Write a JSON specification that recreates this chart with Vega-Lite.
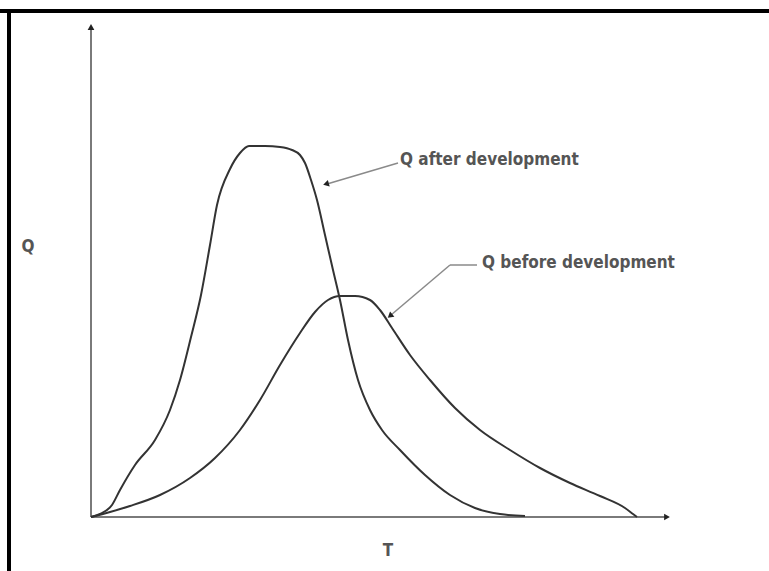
{
  "$schema": "https://vega.github.io/schema/vega-lite/v6.json",
  "width": 769,
  "height": 571,
  "padding": 0,
  "autosize": {"type": "none"},
  "background": "white",
  "config": {"view": {"stroke": null}},
  "datasets": {
    "curves": [
      {"series": "after", "i": 0, "T": 0, "Q": 0},
      {"series": "after", "i": 1, "T": 0.9, "Q": 0.3},
      {"series": "after", "i": 2, "T": 2.1, "Q": 1.2},
      {"series": "after", "i": 3, "T": 2.9, "Q": 2.7},
      {"series": "after", "i": 4, "T": 4.4, "Q": 5.2},
      {"series": "after", "i": 5, "T": 6.4, "Q": 7.7},
      {"series": "after", "i": 6, "T": 7.9, "Q": 10.7},
      {"series": "after", "i": 7, "T": 8.9, "Q": 13.7},
      {"series": "after", "i": 8, "T": 10.0, "Q": 18.0},
      {"series": "after", "i": 9, "T": 11.0, "Q": 22.2},
      {"series": "after", "i": 10, "T": 11.9, "Q": 27.2},
      {"series": "after", "i": 11, "T": 12.6, "Q": 31.2},
      {"series": "after", "i": 12, "T": 13.9, "Q": 34.8},
      {"series": "after", "i": 13, "T": 14.9, "Q": 36.4},
      {"series": "after", "i": 14, "T": 15.8, "Q": 37.1},
      {"series": "after", "i": 15, "T": 17.4, "Q": 37.1},
      {"series": "after", "i": 16, "T": 18.9, "Q": 37.0},
      {"series": "after", "i": 17, "T": 20.1, "Q": 36.7},
      {"series": "after", "i": 18, "T": 20.9, "Q": 36.2},
      {"series": "after", "i": 19, "T": 21.4, "Q": 35.4},
      {"series": "after", "i": 20, "T": 22.0, "Q": 33.7},
      {"series": "after", "i": 21, "T": 22.6, "Q": 31.7},
      {"series": "after", "i": 22, "T": 23.4, "Q": 28.2},
      {"series": "after", "i": 23, "T": 24.2, "Q": 24.7},
      {"series": "after", "i": 24, "T": 24.9, "Q": 21.7},
      {"series": "after", "i": 25, "T": 25.7, "Q": 17.7},
      {"series": "after", "i": 26, "T": 26.7, "Q": 13.7},
      {"series": "after", "i": 27, "T": 27.9, "Q": 10.7},
      {"series": "after", "i": 28, "T": 29.1, "Q": 8.7},
      {"series": "after", "i": 29, "T": 30.9, "Q": 6.7},
      {"series": "after", "i": 30, "T": 33.4, "Q": 4.2},
      {"series": "after", "i": 31, "T": 35.9, "Q": 2.2},
      {"series": "after", "i": 32, "T": 38.4, "Q": 0.9},
      {"series": "after", "i": 33, "T": 40.9, "Q": 0.3},
      {"series": "after", "i": 34, "T": 43.4, "Q": 0.1},
      {"series": "before", "i": 0, "T": 0, "Q": 0},
      {"series": "before", "i": 1, "T": 1.9, "Q": 0.5},
      {"series": "before", "i": 2, "T": 3.9, "Q": 1.1},
      {"series": "before", "i": 3, "T": 6.9, "Q": 2.2},
      {"series": "before", "i": 4, "T": 9.9, "Q": 3.9},
      {"series": "before", "i": 5, "T": 12.4, "Q": 5.9},
      {"series": "before", "i": 6, "T": 14.9, "Q": 8.7},
      {"series": "before", "i": 7, "T": 16.9, "Q": 11.7},
      {"series": "before", "i": 8, "T": 18.9, "Q": 15.2},
      {"series": "before", "i": 9, "T": 20.9, "Q": 18.4},
      {"series": "before", "i": 10, "T": 22.4, "Q": 20.5},
      {"series": "before", "i": 11, "T": 23.7, "Q": 21.7},
      {"series": "before", "i": 12, "T": 24.9, "Q": 22.1},
      {"series": "before", "i": 13, "T": 26.4, "Q": 22.1},
      {"series": "before", "i": 14, "T": 27.9, "Q": 21.7},
      {"series": "before", "i": 15, "T": 28.9, "Q": 20.7},
      {"series": "before", "i": 16, "T": 30.1, "Q": 18.9},
      {"series": "before", "i": 17, "T": 31.9, "Q": 16.2},
      {"series": "before", "i": 18, "T": 33.9, "Q": 13.7},
      {"series": "before", "i": 19, "T": 36.4, "Q": 10.9},
      {"series": "before", "i": 20, "T": 38.9, "Q": 8.7},
      {"series": "before", "i": 21, "T": 41.9, "Q": 6.7},
      {"series": "before", "i": 22, "T": 44.9, "Q": 4.9},
      {"series": "before", "i": 23, "T": 47.9, "Q": 3.4},
      {"series": "before", "i": 24, "T": 50.9, "Q": 2.1},
      {"series": "before", "i": 25, "T": 53.4, "Q": 0.9},
      {"series": "before", "i": 26, "T": 54.2, "Q": 0.3},
      {"series": "before", "i": 27, "T": 54.6, "Q": 0}
    ]
  },
  "layer": [
    {
      "data": {"values": [
        {"T": -9.1, "Q": 50.6, "T2": 67.8, "Q2": 50.6},
        {"T": -8.2, "Q": 50.8, "T2": -8.2, "Q2": -5.4}
      ]},
      "mark": {"type": "rule", "color": "black", "strokeWidth": 4},
      "encoding": {
        "x": {"field": "T", "type": "quantitative", "scale": {"domain": [-9.1, 67.8], "nice": false, "zero": false}, "axis": null},
        "y": {"field": "Q", "type": "quantitative", "scale": {"domain": [-5.4, 51.7], "nice": false, "zero": false}, "axis": null},
        "x2": {"field": "T2"},
        "y2": {"field": "Q2"}
      }
    },
    {
      "data": {"values": [
        {"T": 0, "Q": 0, "T2": 0, "Q2": 48.8},
        {"T": 0, "Q": 0, "T2": 57.4, "Q2": 0}
      ]},
      "mark": {"type": "rule", "color": "#7a7a7a", "strokeWidth": 2},
      "encoding": {
        "x": {"field": "T", "type": "quantitative"},
        "y": {"field": "Q", "type": "quantitative"},
        "x2": {"field": "T2"},
        "y2": {"field": "Q2"}
      }
    },
    {
      "data": {"values": [{"T": 0, "Q": 49.0}]},
      "mark": {"type": "point", "shape": "triangle-up", "filled": true, "color": "#222", "size": 45, "opacity": 1},
      "encoding": {
        "x": {"field": "T", "type": "quantitative"},
        "y": {"field": "Q", "type": "quantitative"}
      }
    },
    {
      "data": {"values": [{"T": 57.6, "Q": 0}]},
      "mark": {"type": "point", "shape": "triangle-right", "filled": true, "color": "#222", "size": 45, "opacity": 1},
      "encoding": {
        "x": {"field": "T", "type": "quantitative"},
        "y": {"field": "Q", "type": "quantitative"}
      }
    },
    {
      "data": {"name": "curves"},
      "mark": {"type": "line", "color": "#333", "strokeWidth": 2, "interpolate": "monotone"},
      "encoding": {
        "x": {"field": "T", "type": "quantitative"},
        "y": {"field": "Q", "type": "quantitative"},
        "detail": {"field": "series"},
        "order": {"field": "i", "type": "quantitative"}
      }
    },
    {
      "data": {"values": [
        {"T": 30.7, "Q": 35.4, "T2": 23.6, "Q2": 33.3},
        {"T": 38.6, "Q": 25.2, "T2": 35.9, "Q2": 25.2},
        {"T": 35.9, "Q": 25.2, "T2": 30.0, "Q2": 20.2}
      ]},
      "mark": {"type": "rule", "color": "#8a8a8a", "strokeWidth": 1.5},
      "encoding": {
        "x": {"field": "T", "type": "quantitative"},
        "y": {"field": "Q", "type": "quantitative"},
        "x2": {"field": "T2"},
        "y2": {"field": "Q2"}
      }
    },
    {
      "data": {"values": [{"T": 23.5, "Q": 33.3}]},
      "mark": {"type": "point", "shape": "triangle-right", "filled": true, "color": "#222", "size": 45, "opacity": 1, "angle": 164},
      "encoding": {
        "x": {"field": "T", "type": "quantitative"},
        "y": {"field": "Q", "type": "quantitative"}
      }
    },
    {
      "data": {"values": [{"T": 29.9, "Q": 20.1}]},
      "mark": {"type": "point", "shape": "triangle-right", "filled": true, "color": "#222", "size": 45, "opacity": 1, "angle": 140},
      "encoding": {
        "x": {"field": "T", "type": "quantitative"},
        "y": {"field": "Q", "type": "quantitative"}
      }
    },
    {
      "data": {"values": [
        {"T": 30.9, "Q": 35.7, "label": "Q after development"},
        {"T": 39.1, "Q": 25.4, "label": "Q before development"}
      ]},
      "mark": {"type": "text", "align": "left", "baseline": "middle", "font": "DejaVu Sans Condensed", "fontSize": 17, "fontWeight": "bold", "color": "#555"},
      "encoding": {
        "x": {"field": "T", "type": "quantitative"},
        "y": {"field": "Q", "type": "quantitative"},
        "text": {"field": "label"}
      }
    },
    {
      "data": {"values": [
        {"T": -6.3, "Q": 27.0, "label": "Q"},
        {"T": 29.7, "Q": -3.4, "label": "T"}
      ]},
      "mark": {"type": "text", "align": "center", "baseline": "middle", "font": "DejaVu Sans Condensed", "fontSize": 17, "fontWeight": "bold", "color": "#555"},
      "encoding": {
        "x": {"field": "T", "type": "quantitative"},
        "y": {"field": "Q", "type": "quantitative"},
        "text": {"field": "label"}
      }
    }
  ]
}
